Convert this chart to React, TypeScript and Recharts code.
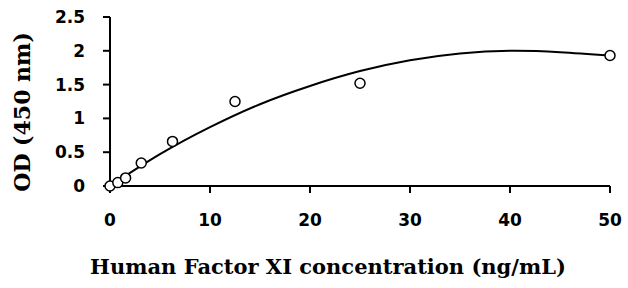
import React from 'react';
import {
    ComposedChart, Scatter, Line, XAxis, YAxis, Label
} from 'recharts';

// measured standards
const concentrations = [0, 0.78, 1.56, 3.125, 6.25, 12.5, 25, 50];
const odValues = [0.0, 0.05, 0.12, 0.34, 0.66, 1.25, 1.52, 1.93];

// fitted curve
const curveX = [0, 5, 10, 15, 20, 25, 30, 35, 40, 45, 50];
const curveY = [0, 0.47, 0.87, 1.21, 1.48, 1.70, 1.86, 1.96, 2.0, 1.98, 1.93];

const xTicks = [0, 10, 20, 30, 40, 50];
const yTicks = [0, 0.5, 1, 1.5, 2, 2.5];

const points = concentrations.map((x, i) => ({ x, y: odValues[i] }));
const curve = curveX.map((x, i) => ({ x, y: curveY[i] }));

const tickStyle = {
    fontFamily: '"DejaVu Sans", sans-serif',
    fontWeight: 'bold' as const,
    fontSize: 17,
    fill: '#000',
};

const titleFont = '"DejaVu Serif", serif';

export default function App() {
    return (
        <div style={{ position: 'absolute', left: 0, top: 0, width: 628, height: 288, background: '#fff' }}>
            <ComposedChart
                width={628}
                height={288}
                margin={{ top: 17, right: 18, bottom: 0, left: 0 }}
            >
                <XAxis
                    type="number"
                    dataKey="x"
                    domain={[0, 50]}
                    ticks={xTicks}
                    height={102}
                    tick={tickStyle}
                    tickSize={7}
                    tickMargin={21}
                    axisLine={{ stroke: '#000', strokeWidth: 2 }}
                    tickLine={{ stroke: '#000', strokeWidth: 2 }}
                >
                    <Label
                        content={({ viewBox }: any) => (
                            <text
                                x={viewBox.x + viewBox.width / 2 - 32}
                                y={274}
                                textAnchor="middle"
                                fontFamily={titleFont}
                                fontWeight="bold"
                                fontSize={21}
                                fill="#000"
                            >
                                Human Factor XI concentration (ng/mL)
                            </text>
                        )}
                    />
                </XAxis>
                <YAxis
                    type="number"
                    dataKey="y"
                    domain={[0, 2.5]}
                    ticks={yTicks}
                    width={110}
                    tick={tickStyle}
                    tickSize={7}
                    tickMargin={18}
                    axisLine={{ stroke: '#000', strokeWidth: 2 }}
                    tickLine={{ stroke: '#000', strokeWidth: 2 }}
                >
                    <Label
                        content={() => (
                            <text
                                x={0}
                                y={0}
                                transform="translate(30, 112) rotate(-90)"
                                textAnchor="middle"
                                fontFamily={titleFont}
                                fontWeight="bold"
                                fontSize={22}
                                fill="#000"
                            >
                                OD (450 nm)
                            </text>
                        )}
                    />
                </YAxis>
                <Line
                    data={curve}
                    dataKey="y"
                    type="natural"
                    stroke="#000"
                    strokeWidth={2}
                    dot={false}
                    activeDot={false}
                    isAnimationActive={false}
                />
                <Scatter
                    data={points}
                    dataKey="y"
                    isAnimationActive={false}
                    shape={(props: any) => (
                        <circle cx={props.cx} cy={props.cy} r={5} fill="#fff" stroke="#000" strokeWidth={1.5} />
                    )}
                />
            </ComposedChart>
        </div>
    );
}
